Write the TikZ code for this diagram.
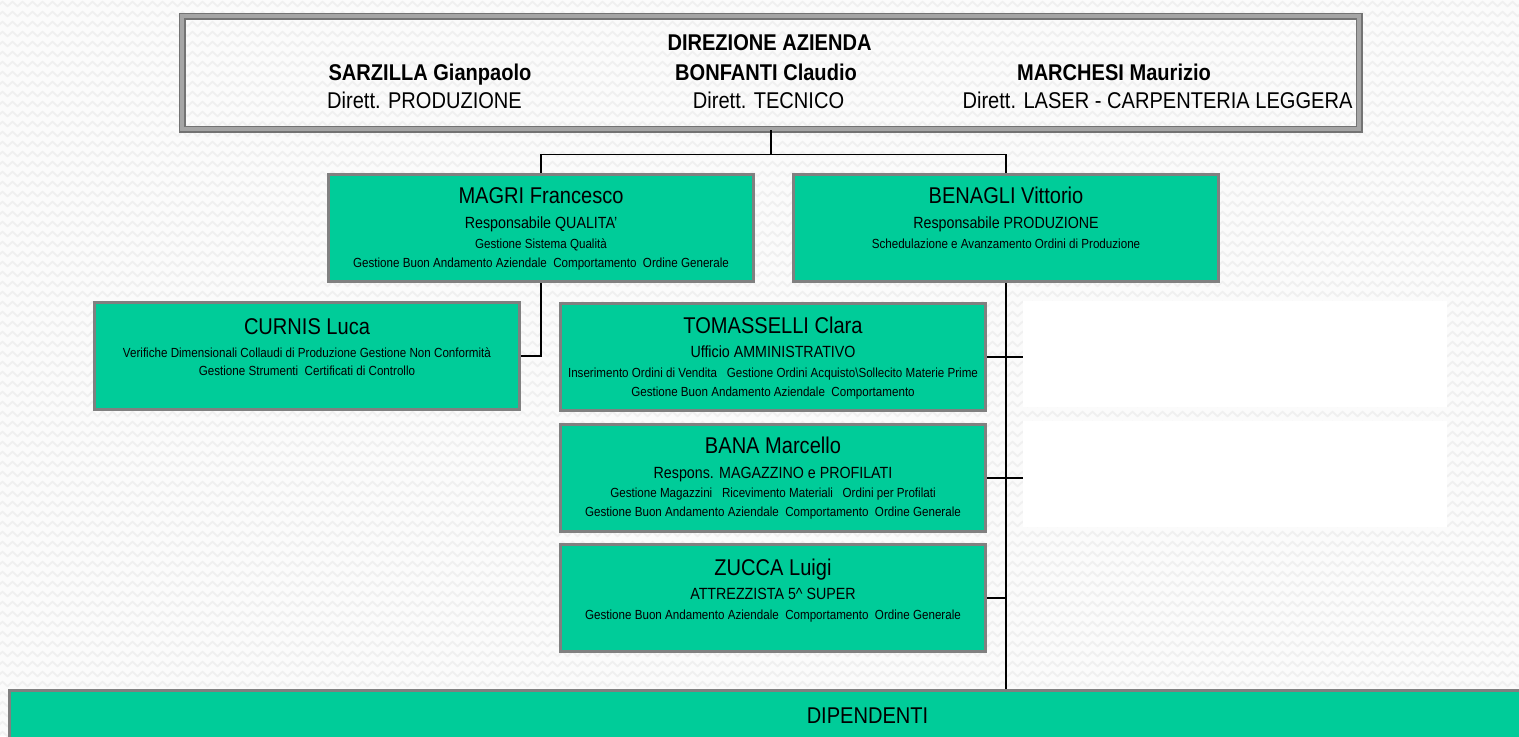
\documentclass[tikz,border=0pt]{standalone}
\usepackage{fontspec}
\setmainfont{Liberation Sans}[FakeStretch=0.88]
\usetikzlibrary{positioning,calc,decorations.pathmorphing}
\definecolor{unitgreen}{RGB}{0,204,153}
\definecolor{boxgray}{RGB}{128,128,128}
\definecolor{framegray}{RGB}{115,115,115}
\definecolor{framelight}{RGB}{165,165,165}
\definecolor{bgtex}{RGB}{251,251,251}
\definecolor{texline}{RGB}{240,240,240}

\tikzset{
  texture/.style={draw=texline, line width=0.9pt, decorate, decoration={zigzag, segment length=5pt, amplitude=1.1pt}},
  headframe/.style={draw=framegray, double=framelight, double distance=2pt, line width=0.75pt, rectangle, minimum width=588.5pt, minimum height=56.5pt, anchor=north west, inner sep=0pt},
  headname/.style={font=\fontsize{11.4}{13}\selectfont\bfseries, anchor=base, inner sep=0pt},
  headrole/.style={font=\fontsize{11.4}{13}\selectfont, anchor=base, inner sep=0pt},
  unitbox/.style={draw=boxgray, line width=1.5pt, fill=unitgreen, rectangle, minimum width=212.5pt, minimum height=53.5pt, anchor=north west, inner sep=0pt},
  vacantbox/.style={fill=white, rectangle, minimum width=212pt, minimum height=53pt, anchor=north west, inner sep=0pt},
  unitname/.style={font=\fontsize{11.4}{13}\selectfont, anchor=base, inner sep=0pt},
  unitrole/.style={font=\fontsize{8.1}{10}\selectfont, anchor=base, inner sep=0pt},
  unittask/.style={font=\fontsize{6.6}{8}\selectfont, anchor=base, inner sep=0pt},
  link/.style={draw=black, line width=0.9pt}
}

\begin{document}
\begin{tikzpicture}[x=0.5pt, y=-0.5pt]
%CANVAS
\useasboundingbox (0,0) rectangle (1519,736);
\clip (0,0) rectangle (1519,736);
\fill[bgtex] (0,0) rectangle (1519,736);
\foreach \row in {4,14,...,744}
  \draw[texture] (-10,\row) -- (1530,\row);
%DIREZIONE
\node (direzione) [headframe] at (181.5,15.5) {};
\node (dirtitle) [headname] at (769.5,50) {DIREZIONE AZIENDA};
\node (sarzilla) [headname] at (430,80) {SARZILLA Gianpaolo};
\node (bonfanti) [headname] at (766,80) {BONFANTI Claudio};
\node (marchesi) [headname] at (1114,80) {MARCHESI Maurizio};
\node (produzione) [headrole] at (424.5,108) {Dirett. PRODUZIONE};
\node (tecnico) [headrole] at (768.5,108) {Dirett. TECNICO};
\node (laser) [headrole] at (1157.5,108) {Dirett. LASER - CARPENTERIA LEGGERA};
%RESPONSABILI
\node (magri) [unitbox] at (327,173) {};
\node (magri-name) [unitname] at ($(magri.north)+(0,30)$) {MAGRI Francesco};
\node (magri-role) [unitrole] at ($(magri.north)+(0,55)$) {Responsabile QUALITA'};
\node (magri-task1) [unittask] at ($(magri.north)+(0,75)$) {Gestione Sistema Qualità};
\node (magri-task2) [unittask] at ($(magri.north)+(0,94)$) {Gestione Buon Andamento Aziendale\ \ Comportamento\ \ Ordine Generale};
%
\node (benagli) [unitbox] at (792,173) {};
\node (benagli-name) [unitname] at ($(benagli.north)+(0,30)$) {BENAGLI Vittorio};
\node (benagli-role) [unitrole] at ($(benagli.north)+(0,55)$) {Responsabile PRODUZIONE};
\node (benagli-task1) [unittask] at ($(benagli.north)+(0,75)$) {Schedulazione e Avanzamento Ordini di Produzione};
%UFFICI
\node (curnis) [unitbox] at (93,301) {};
\node (curnis-name) [unitname] at ($(curnis.north)+(0,33)$) {CURNIS Luca};
\node (curnis-task1) [unittask] at ($(curnis.north)+(0,56)$) {Verifiche Dimensionali Collaudi di Produzione Gestione Non Conformità};
\node (curnis-task2) [unittask] at ($(curnis.north)+(0,74)$) {Gestione Strumenti\ \ Certificati di Controllo};
%
\node (tomasselli) [unitbox] at (559,302) {};
\node (tomasselli-name) [unitname] at ($(tomasselli.north)+(0,31)$) {TOMASSELLI Clara};
\node (tomasselli-role) [unitrole] at ($(tomasselli.north)+(0,55)$) {Ufficio AMMINISTRATIVO};
\node (tomasselli-task1) [unittask] at ($(tomasselli.north)+(0,75)$) {Inserimento Ordini di Vendita\ \ \ Gestione Ordini Acquisto\textbackslash Sollecito Materie Prime};
\node (tomasselli-task2) [unittask] at ($(tomasselli.north)+(0,94)$) {Gestione Buon Andamento Aziendale\ \ Comportamento};
%
\node (bana) [unitbox] at (559,423) {};
\node (bana-name) [unitname] at ($(bana.north)+(0,30)$) {BANA Marcello};
\node (bana-role) [unitrole] at ($(bana.north)+(0,55)$) {Respons. MAGAZZINO e PROFILATI};
\node (bana-task1) [unittask] at ($(bana.north)+(0,74)$) {Gestione Magazzini\ \ \ Ricevimento Materiali\ \ \ Ordini per Profilati};
\node (bana-task2) [unittask] at ($(bana.north)+(0,93)$) {Gestione Buon Andamento Aziendale\ \ Comportamento\ \ Ordine Generale};
%
\node (zucca) [unitbox] at (559,543) {};
\node (zucca-name) [unitname] at ($(zucca.north)+(0,32)$) {ZUCCA Luigi};
\node (zucca-role) [unitrole] at ($(zucca.north)+(0,56)$) {ATTREZZISTA 5\textasciicircum\ SUPER};
\node (zucca-task1) [unittask] at ($(zucca.north)+(0,76)$) {Gestione Buon Andamento Aziendale\ \ Comportamento\ \ Ordine Generale};
%POSTI VACANTI
\node (vacant1) [vacantbox] at (1023,301) {};
\node (vacant2) [vacantbox] at (1023,421) {};
%DIPENDENTI
\node (dipendenti) [unitbox, minimum width=858pt, minimum height=25pt, font=\fontsize{11.4}{13}\selectfont] at (8,689) {DIPENDENTI};
%%CONNECTIONS
\coordinate (split) at ($(direzione.south)+(0,24.5)$);
\draw[link] (direzione.south) -- (split);
\draw[link] (magri.north) |- (split) -| (benagli.north);
\draw[link] (magri.south) |- (curnis.east);
\draw[link] (benagli.south) -- (benagli.south |- dipendenti.north);
\draw[link] (tomasselli.east) -- (tomasselli.east -| vacant1.west);
\draw[link] (bana.east) -- (bana.east -| vacant2.west);
\draw[link] (zucca.east) -- (zucca.east -| benagli.south);
\end{tikzpicture}
\end{document}
